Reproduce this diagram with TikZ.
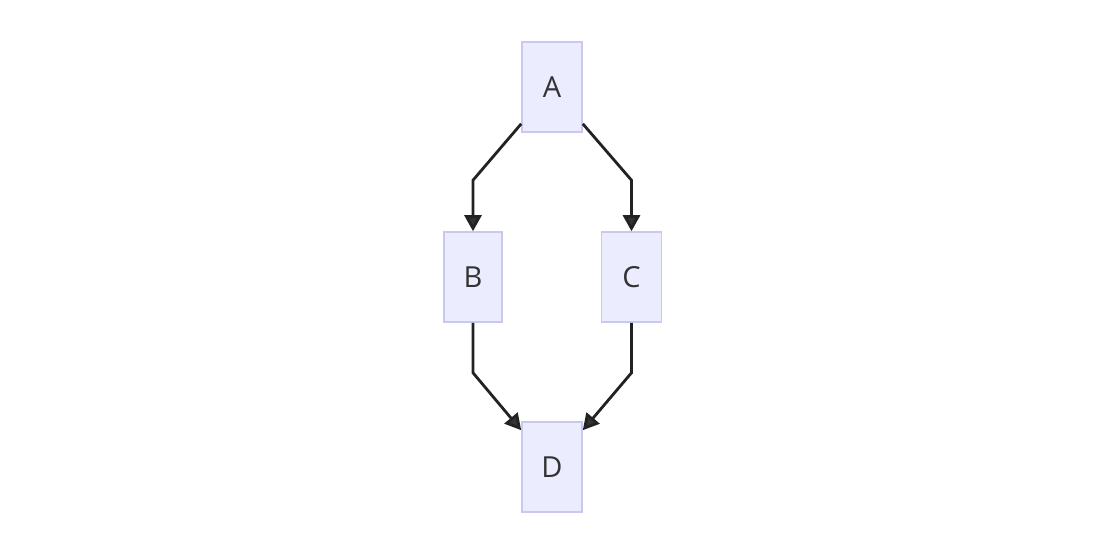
\documentclass[tikz,border=0pt]{standalone}
\usepackage{fontspec}
\setmainfont{Open Sans}
\usetikzlibrary{arrows.meta}
\definecolor{boxfill}{HTML}{ECECFF}
\definecolor{boxline}{HTML}{C8C8F0}
\definecolor{ink}{HTML}{333333}
\definecolor{edge}{HTML}{222222}
\begin{document}
\begin{tikzpicture}[x=1pt,y=-1pt,
  box/.style={draw=boxline, fill=boxfill, line width=1.6pt,
    minimum width=60pt, minimum height=90pt, inner sep=0pt,
    text=ink, font=\fontsize{29}{32}\selectfont},
  arr/.style={draw=edge, line width=2.8pt, line join=miter,
    -{Triangle[length=16pt,width=17pt,fill=ink]}}]
\useasboundingbox (0,0) rectangle (1104,550);
\node[box] (A) at (552,87) {A};
\node[box, minimum width=58pt] (B) at (473,277) {B};
\node[box] (C) at (631.5,277) {C};
\node[box] (D) at (552,467) {D};
% fork from A into B and C
\draw[arr] ([yshift=9pt]A.south west) -- ([yshift=51pt]B.north) -- (B.north);
\draw[arr] ([yshift=9pt]A.south east) -- ([yshift=51pt]C.north) -- (C.north);
% join B and C into D
\draw[arr] (B.south) -- ([yshift=-50pt]B.south) -- ([yshift=-9pt]D.north west);
\draw[arr] (C.south) -- ([yshift=-50pt]C.south) -- ([yshift=-9pt]D.north east);
\end{tikzpicture}
\end{document}
